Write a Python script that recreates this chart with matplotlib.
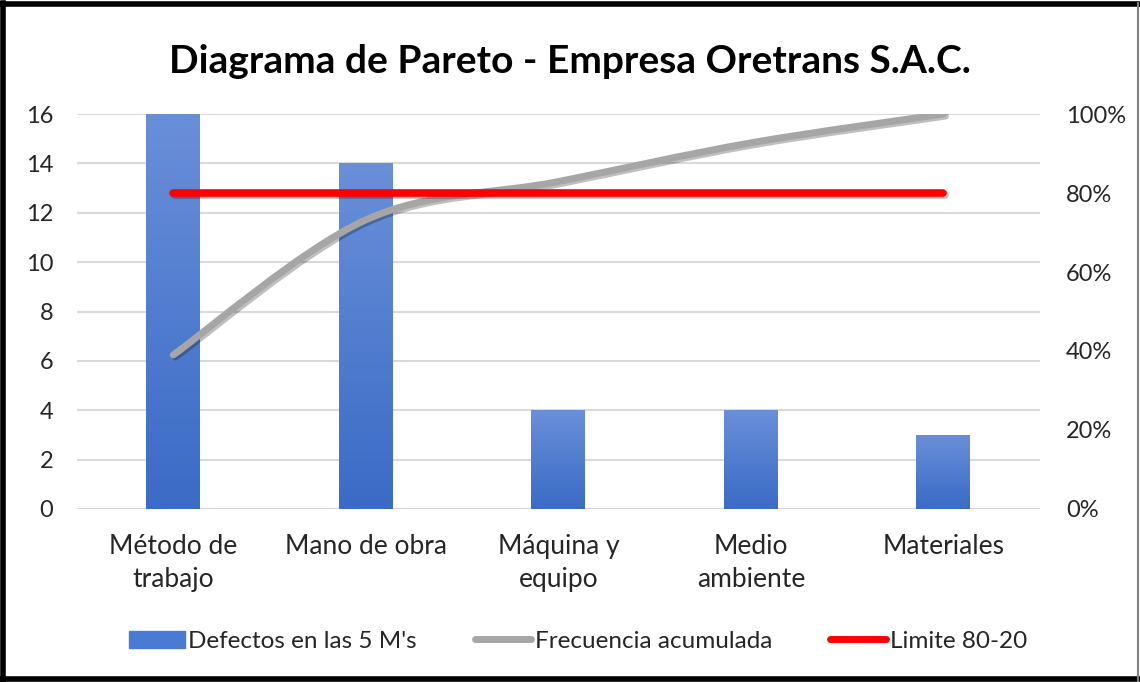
import matplotlib
matplotlib.use('Agg')
import matplotlib.pyplot as plt
import matplotlib.patheffects as pe
from matplotlib.path import Path
from matplotlib.patches import PathPatch
from matplotlib.lines import Line2D
import numpy as np

categories = ['Método de\ntrabajo', 'Mano de obra', 'Máquina y\nequipo', 'Medio\nambiente', 'Materiales']
defectos = [16, 14, 4, 4, 3]
acumulada = [0.39, 0.732, 0.829, 0.927, 1.0]
limite = [0.8, 0.8, 0.8, 0.8, 0.8]
left_ticks = [0, 2, 4, 6, 8, 10, 12, 14, 16]
right_ticks = [0, 0.2, 0.4, 0.6, 0.8, 1.0]
right_labels = ['0%', '20%', '40%', '60%', '80%', '100%']

plt.rcParams['font.family'] = ['Lato', 'DejaVu Sans']

fig = plt.figure(figsize=(11.4, 6.82), dpi=100)
ax = fig.add_axes([0.0675, 0.2537, 0.8445, 0.5791])
x = np.arange(len(categories))

bars = ax.bar(x, defectos, width=0.28, color='#4a7bd4', zorder=2)
# gradient fill clipped to each bar
grad = np.linspace(0, 1, 256).reshape(-1, 1)
cmap = matplotlib.colors.LinearSegmentedColormap.from_list('g', ['#3a6bc6', '#6a8fd9'])
for b in bars:
    bx, by = b.get_x(), b.get_y()
    w, h = b.get_width(), b.get_height()
    im = ax.imshow(grad, cmap=cmap, extent=[bx, bx + w, by, by + h],
                   origin='lower', aspect='auto', zorder=2.5)
    im.set_clip_path(b)

ax.set_xlim(-0.5, len(categories) - 0.5)
ax.set_ylim(0, 16)
ax.set_yticks(left_ticks)
ax.grid(axis='y', color='#d9d9d9', lw=1.5, zorder=0)
ax.set_axisbelow(True)
for s in ax.spines.values():
    s.set_visible(False)
ax.set_xticks(x)
ax.set_xticklabels(categories, fontsize=19, color='#262626', linespacing=1.4)
ax.tick_params(axis='both', length=0, labelsize=17, colors='#262626')
ax.tick_params(axis='x', pad=18, labelsize=19)
ax.tick_params(axis='y', pad=17)

ax2 = ax.twinx()
ax2.set_ylim(0, 1)
ax2.set_yticks(right_ticks)
ax2.set_yticklabels(right_labels)
ax2.tick_params(axis='y', length=0, labelsize=17, colors='#262626', pad=19)
for s in ax2.spines.values():
    s.set_visible(False)

# smoothed cumulative line (Excel-style bezier through the points)
pts = np.column_stack([x, acumulada]).astype(float)
ext = np.vstack([pts[0], pts, pts[-1]])
verts = [tuple(pts[0])]
codes = [Path.MOVETO]
for i in range(1, len(ext) - 2):
    p0, p1, p2, p3 = ext[i - 1], ext[i], ext[i + 1], ext[i + 2]
    c1 = p1 + (p2 - p0) / 6
    c2 = p2 - (p3 - p1) / 6
    verts += [tuple(c1), tuple(c2), tuple(p2)]
    codes += [Path.CURVE4] * 3
shadow = [pe.SimpleLineShadow(offset=(1.5, -1.5), alpha=0.25), pe.Normal()]
curve = PathPatch(Path(verts, codes), fill=False, edgecolor='#a6a6a6', lw=5,
                  capstyle='round', zorder=3, path_effects=shadow)
ax2.add_patch(curve)
ax2.plot(x, limite, color='#ff0000', lw=5.5, solid_capstyle='round', zorder=4,
         path_effects=shadow)

fig.text(0.5, 0.91, 'Diagrama de Pareto - Empresa Oretrans S.A.C.', ha='center', va='center',
         fontsize=28, fontweight='bold', color='black')

handles = [plt.Rectangle((0, 0), 1, 1, color='#4a7bd4'),
           Line2D([], [], color='#a6a6a6', lw=5, solid_capstyle='round'),
           Line2D([], [], color='#ff0000', lw=5, solid_capstyle='round')]
fig.legend(handles, ['Defectos en las 5 M\'s', 'Frecuencia acumulada', 'Limite 80-20'],
           loc='center', bbox_to_anchor=(0.507, 0.06), ncol=3, frameon=False,
           fontsize=17.5, handlelength=2.3, handletextpad=0.15, columnspacing=2.4,
           labelcolor='#262626')

# frame
fig.add_artist(Line2D([0.003, 0.003], [0.0, 0.995], color='black', lw=4, transform=fig.transFigure))
fig.add_artist(Line2D([0.0, 0.998], [0.994, 0.994], color='black', lw=4, transform=fig.transFigure))
fig.add_artist(Line2D([0.0, 0.998], [0.004, 0.004], color='black', lw=4, transform=fig.transFigure))
fig.add_artist(Line2D([0.998, 0.998], [0.0, 0.995], color='#808080', lw=1.5, transform=fig.transFigure))

fig.savefig('out.png', dpi=100)
